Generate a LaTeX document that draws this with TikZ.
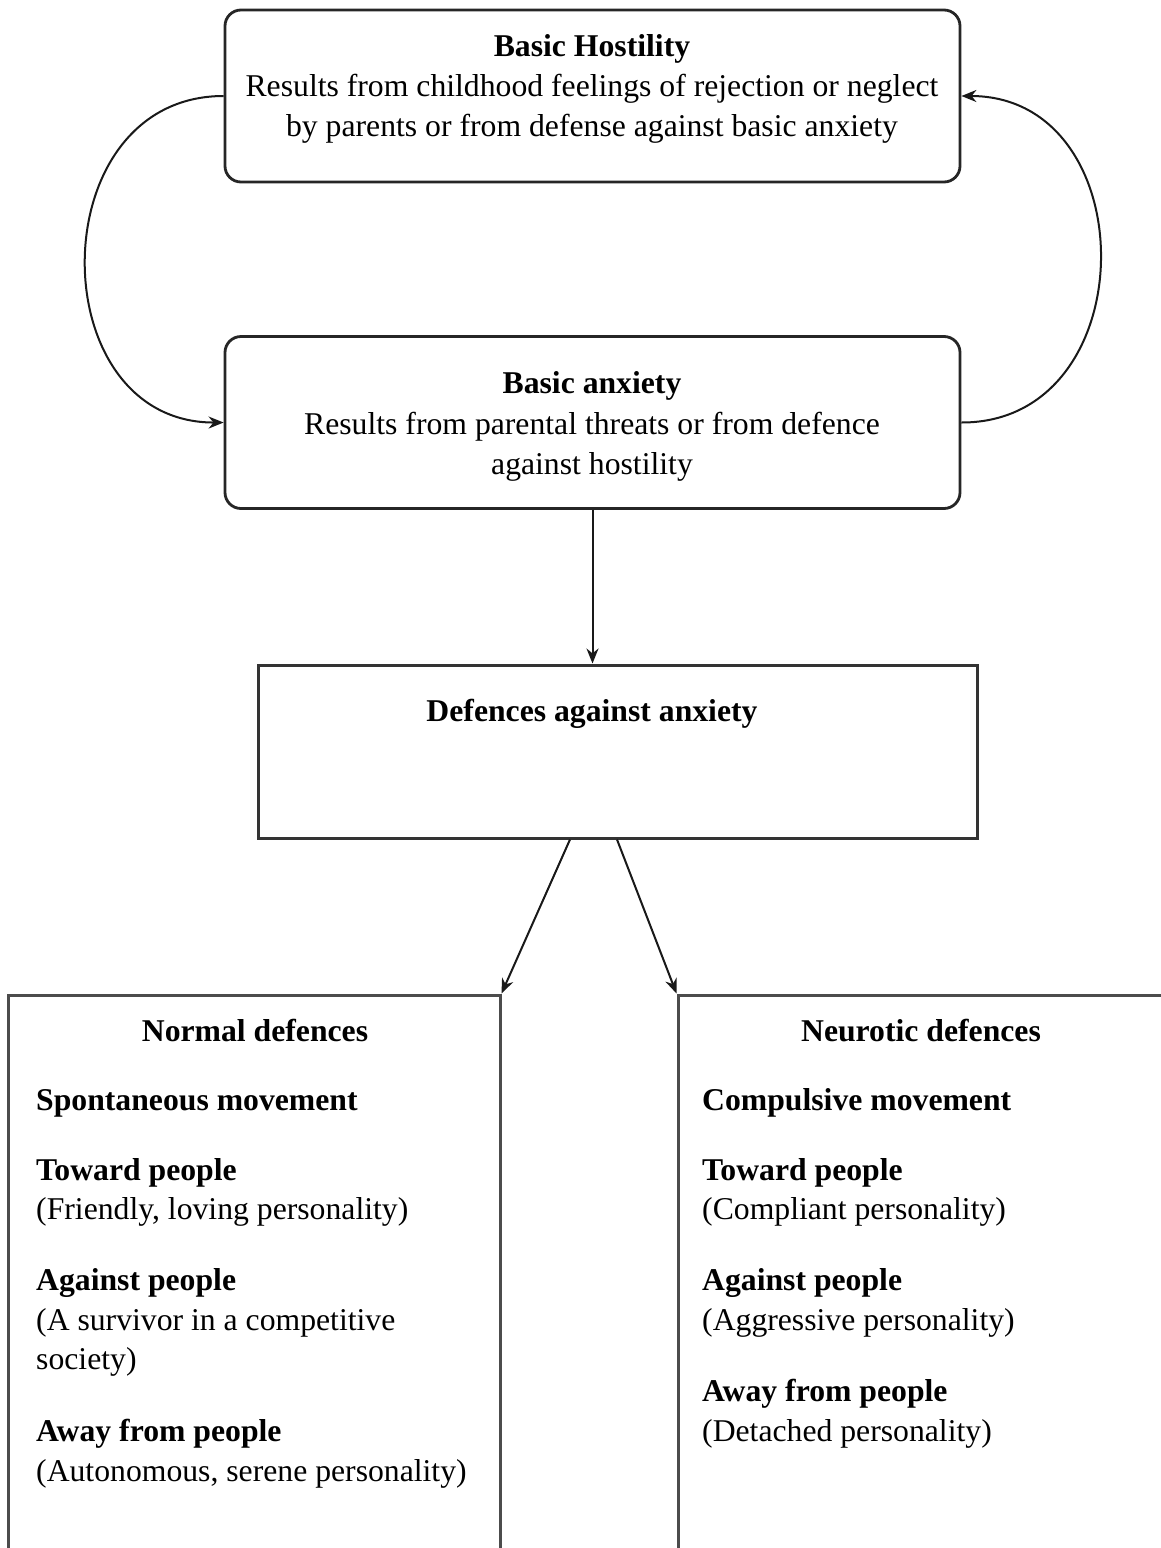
\documentclass[tikz,border=0pt]{standalone}
\usepackage{fontspec}
\setmainfont{Liberation Serif}
\usetikzlibrary{arrows.meta}
\begin{document}
\begin{tikzpicture}[x=1pt,y=-1pt,
  rbox/.style={draw=black!85, line width=2.8pt, rounded corners=16pt, minimum width=735pt, minimum height=172pt, inner sep=0pt},
  sbox/.style={draw=black!80, line width=3pt, minimum width=719pt, minimum height=173pt, inner sep=0pt},
  obox/.style={draw=black!70, line width=3pt, inner sep=0pt},
  txt/.style={font=\fontsize{31.7}{40}\selectfont, inner sep=0pt, anchor=base},
  ltxt/.style={font=\fontsize{31.7}{40}\selectfont, inner sep=0pt, anchor=base west},
  btxt/.style={ltxt, font=\fontsize{31.7}{40}\selectfont\bfseries},
  arr/.style={-{Stealth[length=15pt,width=12pt]}, line width=2pt, draw=black!90}]
\useasboundingbox (0,0) rectangle (1161,1548);
\clip (0,0) rectangle (1161,1548);
\fill[white] (0,0) rectangle (1161,1548);

% boxes
\node[rbox] (host) at (592.5,96) {};
\node[rbox] (anx) at (592.5,422.5) {};
\node[sbox] (def) at (617.5,751.5) {};
\node[obox, minimum width=492pt, minimum height=600pt] (norm) at (254,1295) {};
\node[obox, minimum width=500pt, minimum height=600pt] (neur) at (928,1295) {};

% top box text
\node[txt, font=\fontsize{31.7}{40}\selectfont\bfseries] (h1) at (592,56) {Basic Hostility};
\node[txt] (h2) at (592,96) {Results from childhood feelings of rejection or neglect};
\node[txt] (h3) at (592,136) {by parents or from defense against basic anxiety};

% anxiety box text
\node[txt, font=\fontsize{31.7}{40}\selectfont\bfseries] (a1) at (592,393) {Basic anxiety};
\node[txt] (a2) at (592,434) {Results from parental threats or from defence};
\node[txt] (a3) at (592,474) {against hostility};

% defences
\node[txt, font=\fontsize{31.7}{40}\selectfont\bfseries] (d1) at (592,721) {Defences against anxiety};

% normal defences
\node[txt, font=\fontsize{31.7}{40}\selectfont\bfseries] (n0) at (255,1041) {Normal defences};
\node[btxt] (n1) at (36,1110) {Spontaneous movement};
\node[btxt] (n2) at (36,1180) {Toward people};
\node[ltxt] (n3) at (36,1219) {(Friendly, loving personality)};
\node[btxt] (n4) at (36,1290) {Against people};
\node[ltxt] (n5) at (36,1330) {(A survivor in a competitive};
\node[ltxt] (n6) at (36,1369) {society)};
\node[btxt] (n7) at (36,1441) {Away from people};
\node[ltxt] (n8) at (36,1481) {(Autonomous, serene personality)};

% neurotic defences
\node[txt, font=\fontsize{31.7}{40}\selectfont\bfseries] (r0) at (921,1041) {Neurotic defences};
\node[btxt] (r1) at (702,1110) {Compulsive movement};
\node[btxt] (r2) at (702,1180) {Toward people};
\node[ltxt] (r3) at (702,1219) {(Compliant personality)};
\node[btxt] (r4) at (702,1290) {Against people};
\node[ltxt] (r5) at (702,1330) {(Aggressive personality)};
\node[btxt] (r6) at (702,1401) {Away from people};
\node[ltxt] (r7) at (702,1441) {(Detached personality)};

% connectors
\draw[arr] (host.west) .. controls (40,96) and (40,423) .. (anx.west);
\draw[arr] (anx.east) .. controls (1146,423) and (1146,96) .. (host.east);
\draw[arr] (anx.south) -- (def.north -| anx.south);
\draw[arr] ([xshift=-47.5pt]def.south) -- (norm.north east);
\draw[arr] ([xshift=-0.5pt]def.south) -- (neur.north west);
\end{tikzpicture}
\end{document}
